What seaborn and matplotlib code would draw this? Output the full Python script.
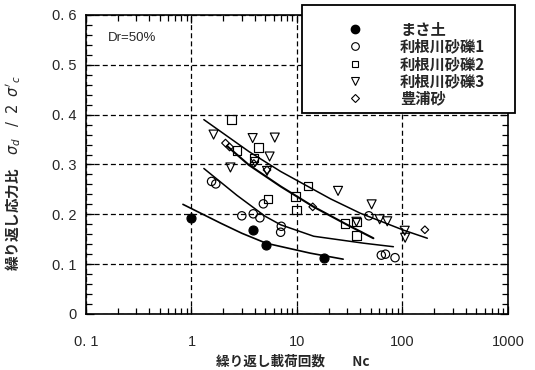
import matplotlib
matplotlib.use("Agg")
import matplotlib.pyplot as plt
import seaborn as sns
from matplotlib.lines import Line2D
from matplotlib.patches import Rectangle
from matplotlib.ticker import FixedLocator, FixedFormatter, LogLocator, MultipleLocator, NullFormatter

# Number of loading cycles Nc and cyclic stress ratio for each material
masa_n = [1.0, 3.8, 5.1, 18.0]
masa_y = [0.193, 0.169, 0.139, 0.113]

tone1_n = [1.55, 1.7, 3.0, 3.85, 4.45, 4.8, 7.0, 7.1, 48, 63, 69, 85]
tone1_y = [0.266, 0.261, 0.197, 0.201, 0.193, 0.221, 0.164, 0.176, 0.197, 0.118, 0.120, 0.113]

tone2_n = [2.4, 2.7, 4.3, 3.9, 5.3, 9.7, 9.9, 12.7, 28.4, 36.6, 36.6]
tone2_y = [0.390, 0.328, 0.334, 0.313, 0.231, 0.236, 0.209, 0.257, 0.182, 0.185, 0.157]

tone3_n = [1.62, 2.34, 3.8, 4.0, 5.2, 5.5, 6.16, 24.5, 36.6, 51, 60.8, 71.7, 105, 106]
tone3_y = [0.360, 0.294, 0.353, 0.305, 0.287, 0.316, 0.354, 0.247, 0.185, 0.220, 0.190, 0.186, 0.167, 0.153]

toyoura_n = [2.1, 2.3, 3.9, 5.2, 14.1, 163]
toyoura_y = [0.343, 0.335, 0.302, 0.289, 0.215, 0.169]

# Strength curves drawn through the data groups
curve_masa_n = [0.83, 1.9, 3.0, 5.1, 13.4, 27.4]
curve_masa_y = [0.220, 0.182, 0.162, 0.142, 0.122, 0.110]

curve_lower_n = [1.31, 2.7, 5.0, 7.0, 14.4, 43, 82]
curve_lower_y = [0.292, 0.238, 0.196, 0.179, 0.156, 0.142, 0.135]

curve_middle_n = [2.2, 3.5, 7.0, 14.4, 29.9, 53]
curve_middle_y = [0.336, 0.299, 0.256, 0.215, 0.179, 0.152]

curve_upper_n = [1.31, 3.5, 7.0, 20.8, 40, 103, 172]
curve_upper_y = [0.390, 0.326, 0.286, 0.231, 0.202, 0.168, 0.152]

series_labels = ["まさ土", "利根川砂礫1", "利根川砂礫2", "利根川砂礫3", "豊浦砂"]

x_ticks = [0.1, 1, 10, 100, 1000]
x_tick_labels = ["0. 1", "1", "10", "100", "1000"]
y_ticks = [0, 0.1, 0.2, 0.3, 0.4, 0.5, 0.6]
y_tick_labels = ["0", "0. 1", "0. 2", "0. 3", "0. 4", "0. 5", "0. 6"]

sns.set_style("ticks")
plt.rcParams["font.family"] = ["Noto Sans CJK JP", "DejaVu Sans"]
plt.rcParams["mathtext.fontset"] = "dejavusans"

fig = plt.figure(figsize=(5.35, 3.7), dpi=100)
ax = fig.add_axes([0.1607, 0.1514, 0.7888, 0.8081])

# fitted curves
for cn, cy, lw in [(curve_masa_n, curve_masa_y, 1.2),
                   (curve_lower_n, curve_lower_y, 1.1),
                   (curve_middle_n, curve_middle_y, 1.5),
                   (curve_upper_n, curve_upper_y, 1.1)]:
    sns.lineplot(x=cn, y=cy, sort=False, estimator=None, color="black",
                 linewidth=lw, ax=ax, zorder=3)

# test results
styles = [
    (masa_n, masa_y, "o", 42, "black"),
    (tone1_n, tone1_y, "o", 36, "none"),
    (tone2_n, tone2_y, "s", 38, "none"),
    (tone3_n, tone3_y, "v", 42, "none"),
    (toyoura_n, toyoura_y, "D", 15, "none"),
]
for n, y, m, s, fc in styles:
    sns.scatterplot(x=n, y=y, marker=m, s=s, facecolor=fc, edgecolor="black",
                    linewidth=0.85, ax=ax, zorder=4)

ax.set_xscale("log")
ax.set_xlim(0.1, 1000)
ax.set_ylim(0, 0.6)

ax.xaxis.set_major_locator(FixedLocator(x_ticks))
ax.xaxis.set_major_formatter(FixedFormatter(x_tick_labels))
ax.xaxis.set_minor_locator(LogLocator(base=10, subs=range(2, 10)))
ax.xaxis.set_minor_formatter(NullFormatter())
ax.yaxis.set_major_locator(FixedLocator(y_ticks))
ax.yaxis.set_major_formatter(FixedFormatter(y_tick_labels))
ax.yaxis.set_minor_locator(MultipleLocator(0.02))

ax.tick_params(which="both", direction="in", top=True, right=True,
               color="black", width=0.9)
ax.tick_params(which="major", length=6)
ax.tick_params(which="minor", length=4)
ax.tick_params(axis="x", which="major", pad=15, labelsize=10.5)
ax.tick_params(axis="y", which="major", pad=7, labelsize=10.5)
for lab in ax.get_xticklabels() + ax.get_yticklabels():
    lab.set_fontfamily(["Liberation Sans", "DejaVu Sans"])

for sp in ax.spines.values():
    sp.set_linewidth(1.2)
    sp.set_color("black")

ax.grid(which="major", color="black", linewidth=0.9, linestyle=(0, (4, 2.5)))
ax.set_axisbelow(True)

ax.set_xlabel("繰り返し載荷回数　　Nc", fontsize=9.8, fontweight="bold")
ax.xaxis.set_label_coords(0.489, -0.137)
ax.xaxis.label.set_verticalalignment("top")
ax.set_ylabel("繰り返し応力比　$\\sigma_{d}\\;\\;\\;/\\;\\;2\\;\\;\\sigma'_{c}$",
              fontsize=10.5, fontweight="bold")
ax.yaxis.set_label_coords(-0.150, 0.472)

ax.text(0.052, 0.923, "Dr=50%", transform=ax.transAxes, fontsize=9.5,
        family=["Liberation Sans", "DejaVu Sans"], ha="left", va="center")

# legend box overlapping the top-right corner
box = Rectangle((302 / 535, 1 - 113 / 370), 213 / 535, 108 / 370,
                transform=fig.transFigure, facecolor="white",
                edgecolor="black", linewidth=1.3, zorder=5)
fig.add_artist(box)

handles = [
    Line2D([], [], ls="none", marker="o", ms=6, mfc="black", mec="black"),
    Line2D([], [], ls="none", marker="o", ms=5.5, mfc="none", mec="black", mew=0.8),
    Line2D([], [], ls="none", marker="s", ms=5, mfc="none", mec="black", mew=0.8),
    Line2D([], [], ls="none", marker="v", ms=5.5, mfc="none", mec="black", mew=0.8),
    Line2D([], [], ls="none", marker="D", ms=3.8, mfc="none", mec="black", mew=0.8),
]
leg = fig.legend(handles, series_labels, loc="upper left",
                 bbox_to_anchor=(347.4 / 535, 1 - 21.5 / 370),
                 bbox_transform=fig.transFigure, frameon=False,
                 prop={"size": 11, "weight": "bold"},
                 handlelength=1.0, handletextpad=2.45,
                 borderpad=0, borderaxespad=0, labelspacing=0.08)
leg.set_zorder(6)

fig.savefig("out.png", dpi=100)
